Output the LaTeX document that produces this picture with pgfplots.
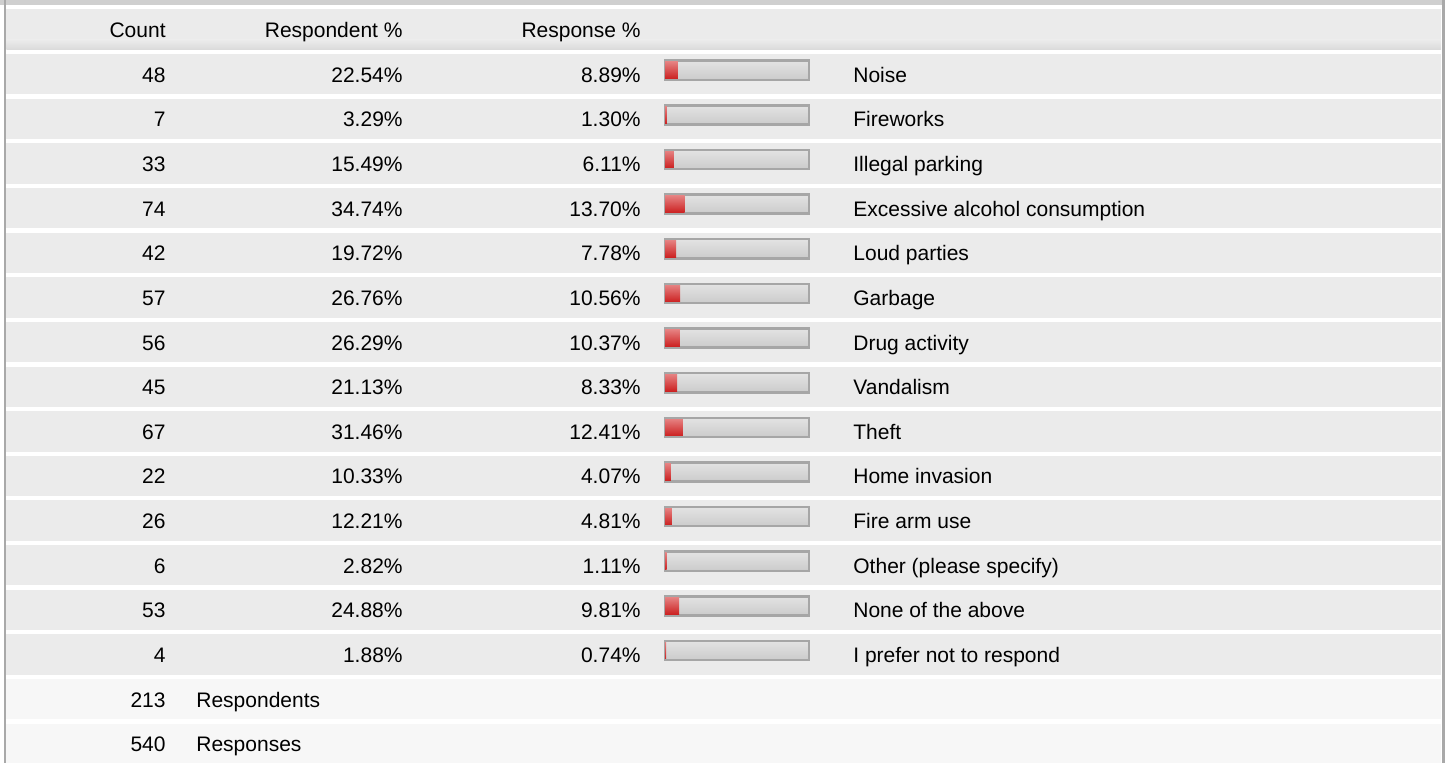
\documentclass[border=0pt]{standalone}
\usepackage{fontspec}
\setmainfont{Liberation Sans}
\usepackage{pgfplots}
\usepackage{pgfplotstable}
\pgfplotsset{compat=1.18}
\definecolor{rowbg}{HTML}{EBEBEB}
\definecolor{sumbg}{HTML}{F7F7F7}
\definecolor{hdrbot}{HTML}{DADADA}
\definecolor{topband}{HTML}{CFCFCF}
\definecolor{frame}{HTML}{A9A9A9}
\definecolor{tracktop}{HTML}{E3E3E3}
\definecolor{trackbot}{HTML}{CBCBCB}
\definecolor{trackborder}{HTML}{A6A6A6}
\definecolor{redtop}{HTML}{E58080}
\definecolor{redmid}{HTML}{D43838}
\definecolor{redbot}{HTML}{CC2222}
\newcommand\fs{\fontsize{10.5pt}{12.6pt}\selectfont}

\pgfplotstableread[col sep=comma]{
row,count,respondent,response,label
1,48,22.54,8.89,Noise
2,7,3.29,1.30,Fireworks
3,33,15.49,6.11,Illegal parking
4,74,34.74,13.70,Excessive alcohol consumption
5,42,19.72,7.78,Loud parties
6,57,26.76,10.56,Garbage
7,56,26.29,10.37,Drug activity
8,45,21.13,8.33,Vandalism
9,67,31.46,12.41,Theft
10,22,10.33,4.07,Home invasion
11,26,12.21,4.81,Fire arm use
12,6,2.82,1.11,Other (please specify)
13,53,24.88,9.81,None of the above
14,4,1.88,0.74,I prefer not to respond
}\data

\pgfplotstableread[col sep=comma]{
row,count,label
15,213,Respondents
16,540,Responses
}\totals

\begin{document}
\begin{tikzpicture}
\begin{axis}[
  width=722.5pt, height=381.5pt, scale only axis,
  xmin=0, xmax=1445, ymin=0, ymax=763, y dir=reverse,
  hide axis, clip=false,
  every node near coord/.style={inner sep=0pt, font=\fs, text=black},
]
% backgrounds
\fill[white] (axis cs:0,0) rectangle (axis cs:1445,763);
\fill[topband] (axis cs:0,0) rectangle (axis cs:1445,4.7);
\fill[frame] (axis cs:4,0) rectangle (axis cs:6.3,763);
\fill[frame] (axis cs:1441.7,0) rectangle (axis cs:1445,763);
\fill[rowbg] (axis cs:6.3,9.4) rectangle (axis cs:1441,40);
\shade[top color=rowbg, bottom color=hdrbot] (axis cs:6.3,40) rectangle (axis cs:1441,49.8);
\pgfplotsinvokeforeach{1,...,14}{
  \fill[rowbg] (axis cs:6.3,{9.4+44.64*#1}) rectangle (axis cs:1441,{49.8+44.64*#1});
}
\fill[sumbg] (axis cs:6.3,{9.4+44.64*15}) rectangle (axis cs:1441,{49.8+44.64*15});
\fill[sumbg] (axis cs:6.3,{9.4+44.64*16}) rectangle (axis cs:1441,763);
% header
\node[anchor=base east, inner sep=0pt, font=\fs] at (axis cs:166,37.6) {Count};
\node[anchor=base east, inner sep=0pt, font=\fs] at (axis cs:403,37.6) {Respondent \%};
\node[anchor=base east, inner sep=0pt, font=\fs] at (axis cs:641,37.6) {Response \%};
% data text
\addplot[only marks, mark=none, point meta=explicit symbolic,
  nodes near coords={\pgfplotspointmeta}, nodes near coords align={anchor=base east}]
  table[x expr=166, y expr=37.6+44.64*\thisrow{row}, meta=count]{\data};
\addplot[only marks, mark=none, point meta=explicit symbolic,
  nodes near coords={\pgfplotspointmeta\%}, nodes near coords align={anchor=base east}]
  table[x expr=403, y expr=37.6+44.64*\thisrow{row}, meta=respondent]{\data};
\addplot[only marks, mark=none, point meta=explicit symbolic,
  nodes near coords={\pgfplotspointmeta\%}, nodes near coords align={anchor=base east}]
  table[x expr=641, y expr=37.6+44.64*\thisrow{row}, meta=response]{\data};
\addplot[only marks, mark=none, point meta=explicit symbolic,
  nodes near coords={\pgfplotspointmeta}, nodes near coords align={anchor=base west}]
  table[x expr=853, y expr=37.6+44.64*\thisrow{row}, meta=label]{\data};
% totals
\addplot[only marks, mark=none, point meta=explicit symbolic,
  nodes near coords={\pgfplotspointmeta}, nodes near coords align={anchor=base east}]
  table[x expr=166, y expr=37.6+44.64*\thisrow{row}, meta=count]{\totals};
\addplot[only marks, mark=none, point meta=explicit symbolic,
  nodes near coords={\pgfplotspointmeta}, nodes near coords align={anchor=base west}]
  table[x expr=196, y expr=37.6+44.64*\thisrow{row}, meta=label]{\totals};
\end{axis}

\begin{axis}[
  at={(332.5pt,45.05pt)}, anchor=south west,
  width=72pt, height=312.5pt, scale only axis,
  xmin=0, xmax=100, ymin=0.5, ymax=14.5, y dir=reverse,
  hide axis, clip=false,
]
\pgfplotsinvokeforeach{1,...,14}{
\addplot[xbar, bar width=9.6pt, bar shift=0pt, draw=trackborder, line width=1.25pt,
  top color=tracktop, bottom color=trackbot, restrict y to domain=#1:#1]
  table[x expr=100, y=row]{\data};
\addplot[xbar, bar width=8.3pt, bar shift=0pt, draw=none,
  top color=redtop, middle color=redmid, bottom color=redbot, restrict y to domain=#1:#1]
  table[x=response, y=row]{\data};
}
\end{axis}
\pgfresetboundingbox
\useasboundingbox (0,0) rectangle (722.5pt,381.5pt);
\end{tikzpicture}
\end{document}
